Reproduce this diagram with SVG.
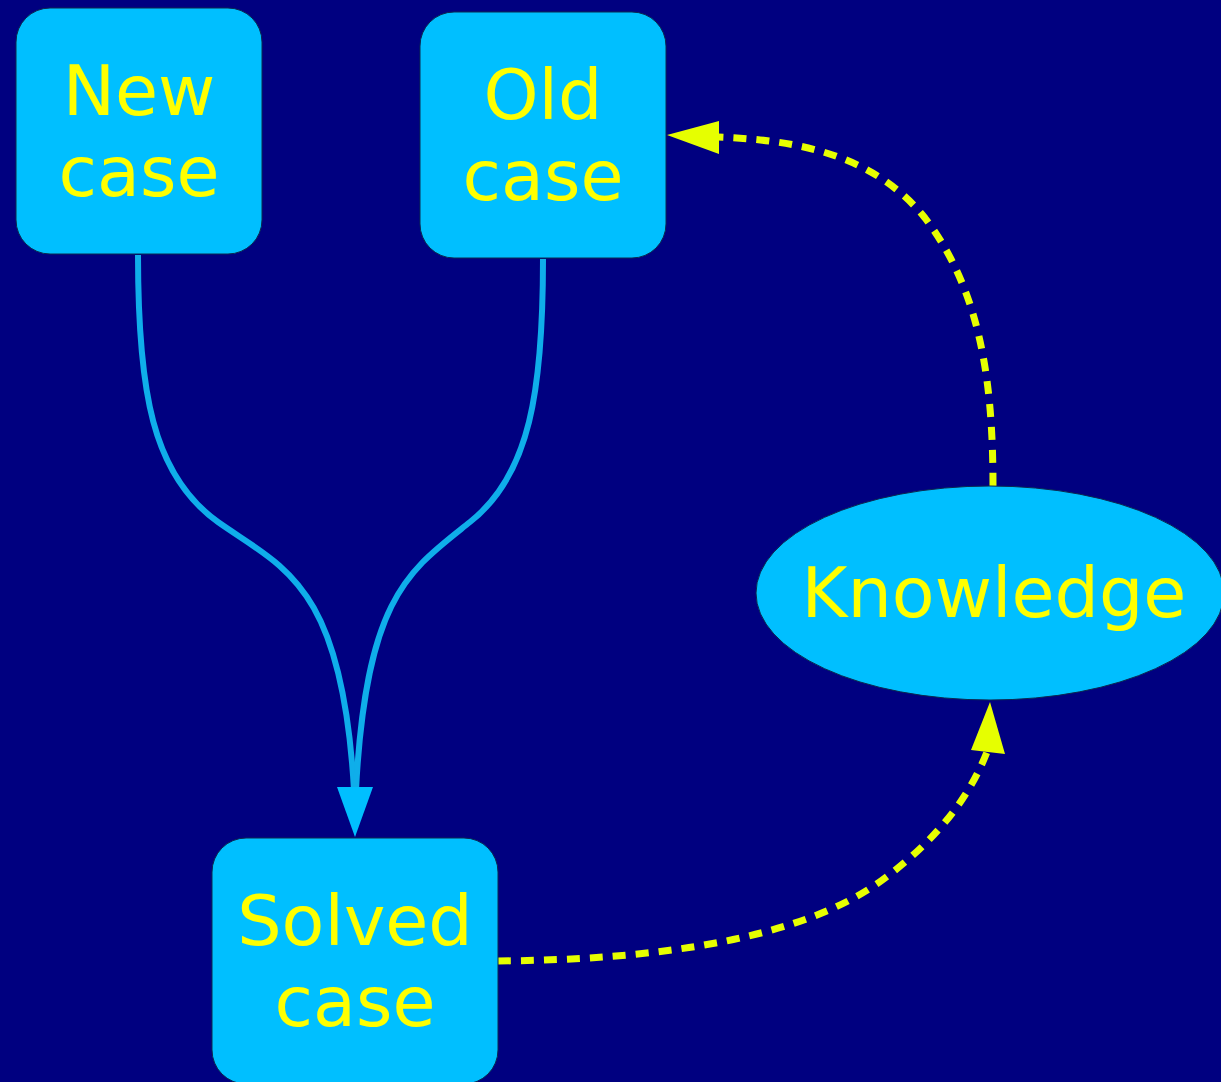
<svg xmlns="http://www.w3.org/2000/svg" width="1221" height="1082" viewBox="0 0 1221 1082">
  <style>
    .node { fill: #00BFFF; stroke: #0a2a50; stroke-width: 1; }
    .label { font-family: "DejaVu Sans", "Liberation Sans", sans-serif; font-size: 70px; fill: #FFFF00; text-anchor: middle; }
    .solid { fill: none; stroke: #0FAEEA; stroke-width: 6; }
    .dashed { fill: none; stroke: #E6FF00; stroke-width: 7; stroke-dasharray: 13 10; }
    .head-blue { fill: #00BFFF; }
    .head-yellow { fill: #E6FF00; }
  </style>
  <rect width="1221" height="1082" fill="#000080"/>

  <g id="edges">
    <!-- New case -> Solved case -->
    <path class="solid" d="M138,255 C138,390 152,475 218,522 C283,568 342,582 354,790"/>
    <!-- Old case -> Solved case -->
    <path class="solid" d="M543,259 C543,390 530,475 470,522 C410,570 366,595 356,790"/>
    <polygon class="head-blue" points="337,787 373,787 355,837"/>
    <!-- Knowledge -> Old case -->
    <path class="dashed" d="M993,486 C993,380 980,290 925,218 C872,152 792,140 718,137"/>
    <polygon class="head-yellow" points="719,121 719,154 667,135"/>
    <!-- Solved case -> Knowledge -->
    <path class="dashed" d="M498,961 C610,960 790,950 885,878 C945,833 972,790 987,752"/>
    <polygon class="head-yellow" points="971,750 1005,754 990,702"/>
  </g>

  <g id="new-case">
    <rect class="node" x="16" y="8" width="246" height="246" rx="34" ry="34"/>
    <text class="label" x="139" y="115">New</text>
    <text class="label" x="139" y="196">case</text>
  </g>

  <g id="old-case">
    <rect class="node" x="420" y="12" width="246" height="246" rx="34" ry="34"/>
    <text class="label" x="543" y="119">Old</text>
    <text class="label" x="543" y="200">case</text>
  </g>

  <g id="solved-case">
    <rect class="node" x="212" y="838" width="286" height="246" rx="34" ry="34"/>
    <text class="label" x="355" y="945">Solved</text>
    <text class="label" x="355" y="1026">case</text>
  </g>

  <g id="knowledge">
    <ellipse class="node" cx="990" cy="593" rx="234" ry="107"/>
    <text class="label" x="994" y="617">Knowledge</text>
  </g>
</svg>
